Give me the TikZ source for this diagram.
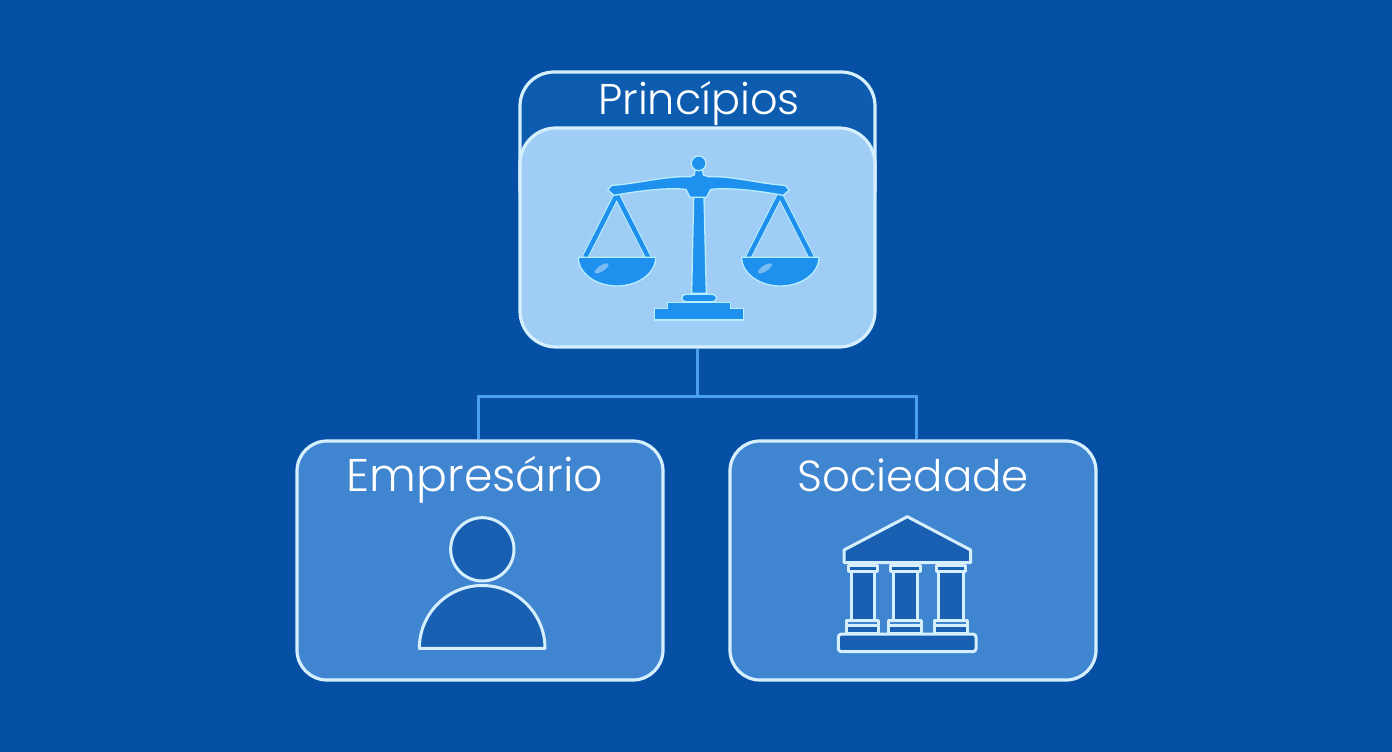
\documentclass[tikz,border=0pt]{standalone}
\usepackage{fontspec}
\setmainfont{Poppins Light}
\definecolor{bgblue}{HTML}{0550A5}
\definecolor{hdrblue}{HTML}{0D5CB0}
\definecolor{cardblue}{HTML}{4085D0}
\definecolor{paleblue}{HTML}{A0CDF5}
\definecolor{edgepale}{HTML}{D6EFFD}
\definecolor{linkblue}{HTML}{4A9FF0}
\definecolor{scaleblue}{HTML}{1E90EE}
\definecolor{halo}{HTML}{B8EEFF}
\definecolor{iconfill}{HTML}{1A60B2}
\tikzset{
  x=1pt,y=-1pt,
  card/.style={draw=edgepale,line width=3.2pt,rounded corners=30pt,inner sep=0pt,fill=cardblue,minimum width=366pt,minimum height=239pt},
  title/.style={text=white,inner sep=0pt},
  link/.style={draw=linkblue,line width=3pt},
  scalepart/.style={draw=halo,fill=scaleblue,line width=1.3pt,line join=round},
  iconpart/.style={draw=edgepale,fill=iconfill,line width=3pt,line join=round},
  zoomone/.style={shift={(510,60)},x=.33333pt,y=-.33333pt},
  zoomtwo/.style={shift={(820,500)},x=.33333pt,y=-.33333pt},
  zoomthree/.style={shift={(400,500)},x=.33333pt,y=-.33333pt},
}
\begin{document}
\begin{tikzpicture}
\useasboundingbox (0,0) rectangle (1392,752);
\fill[bgblue] (0,0) rectangle (1392,752);
\node[card,fill=hdrblue,minimum width=355pt,minimum height=150pt,rounded corners=34pt] (head) at (697.5,147) {};
\node[card,fill=paleblue,minimum width=355pt,minimum height=219pt,rounded corners=36pt] (body) at (697.5,237.5) {};
\node[card] (left) at (480,560.5) {};
\node[card] (right) at (913,560.5) {};
\coordinate (bus) at (697,396);
\draw[link] (body.south -| bus) -- (bus);
\draw[link] ([xshift=-2pt]left.north) |- (bus) -| ([xshift=3pt]right.north);
\node[title,anchor=base,font=\fontsize{43}{50}\selectfont] (tp) at (699,114) {Princípios};
\node[title,anchor=base,font=\fontsize{45.8}{52}\selectfont] (tl) at (475,491) {Empresário};
\node[title,anchor=base,font=\fontsize{43.5}{52}\selectfont] (tr) at (913,491) {Sociedade};
% balance
\begin{scope}[zoomone]
  \foreach \c in {320,810}{
    \draw[halo,line width=6.4pt] (\c,405) -- (\c-95,592) (\c,405) -- (\c+95,592);
    \draw[scaleblue,line width=4.4pt] (\c,405) -- (\c-95,592) (\c,405) -- (\c+95,592);
    \draw[scalepart] (\c-115,592) -- (\c+117,592) arc[start angle=0,end angle=180,x radius=116,y radius=86] -- cycle;
  }
  \fill[paleblue!70!scaleblue] (275,625) ellipse[x radius=24,y radius=9,rotate=33];
  \fill[paleblue!70!scaleblue] (765,625) ellipse[x radius=24,y radius=9,rotate=33];
  \draw[scalepart] (545,700) -- (551,412) -- (582,412) -- (589,700) -- cycle;
  \draw[scalepart,rounded corners=4pt] (515,725) -- (515,703) -- (620,703) -- (620,725) -- cycle;
  \draw[scalepart] (433,780) -- (433,745) -- (472,745) -- (472,728) -- (662,728) -- (662,745) -- (700,745) -- (700,780) -- cycle;
  \draw[scalepart] (305,376) .. controls (380,372) and (460,348) .. (540,350) -- (553,345) -- (556,325) -- (576,325) -- (580,345) -- (595,350) .. controls (672,348) and (752,372) .. (825,376) -- (838,390) -- (820,406) .. controls (742,392) and (662,382) .. (602,388) -- (590,412) -- (540,412) -- (528,388) .. controls (470,382) and (390,392) .. (312,406) -- (293,390) -- cycle;
  \draw[scalepart] (566,310) circle[radius=22];
\end{scope}
% person
\begin{scope}[zoomthree]
  \draw[iconpart] (247,148) circle[radius=95];
  \draw[iconpart] (58,445) arc[start angle=180,end angle=360,radius=188.5] -- cycle;
\end{scope}
% temple
\begin{scope}[zoomtwo]
  \foreach \a/\b in {85/172,212/300,348/437}{
    \draw[iconpart] (\a,195) rectangle (\b,215);
    \draw[iconpart] (\a+8,215) rectangle (\b-8,360);
    \draw[iconpart,fill=cardblue] (\a-6,362) rectangle (\b+4,400);
    \draw[iconpart] (\a-6,376) rectangle (\b+4,400);
  }
  \draw[iconpart] (262,50) -- (452,150) -- (452,188) -- (72,188) -- (72,150) -- cycle;
  \draw[iconpart,rounded corners=3pt] (55,402) rectangle (468,455);
\end{scope}
\end{tikzpicture}
\end{document}
